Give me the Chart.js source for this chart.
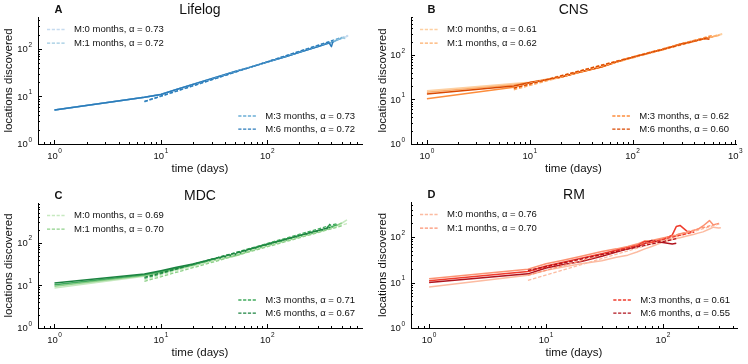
<!DOCTYPE html>
<html><head><meta charset="utf-8">
<script src="https://cdn.jsdelivr.net/npm/chart.js@4.4.1/dist/chart.umd.min.js"></script>
<style>
html,body{margin:0;padding:0;background:#fff;}
#wrap{position:relative;width:748px;height:364px;background:#fff;}
#wrap canvas{position:absolute;}
</style></head><body>
<div id="wrap">
<canvas id="cA" width="374" height="182" style="left:0;top:0"></canvas>
<canvas id="cB" width="374" height="182" style="left:374px;top:0"></canvas>
<canvas id="cC" width="374" height="182" style="left:0;top:182px"></canvas>
<canvas id="cD" width="374" height="182" style="left:374px;top:182px"></canvas>
</div>
<script>
// ---------- shared labels ----------
const seriesLabels = ['M:0 months', 'M:1 months', 'M:3 months', 'M:6 months'];
const panelTitles = ['Lifelog', 'CNS', 'MDC', 'RM'];
const panelLetters = ['A', 'B', 'C', 'D'];
const xTitle = 'time (days)';
const yTitle = 'locations discovered';

// ---------- A: Lifelog ----------
const lifelogDays = [1, 7, 10, 14, 20, 30, 50, 70, 100, 150, 200, 300, 380, 400, 415, 450, 500, 540, 575];
const lifelogM0 = [5.2, 9.6, 11, 14, 17.8, 23.5, 33.5, 41.5, 53, 69, 85, 112, 132, 136, 140, 152, 170, 178, 186];
const lifelogM1 = [5.2, 9.6, 11.1, 14.1, 18, 23.8, 33.8, 41.8, 53.5, 69.5, 85.5, 114, 134, 138, 142, 155, 172, 165, null];
const lifelogM3 = [5.2, 9.6, 11, 14, 17.9, 23.6, 33.6, 41.6, 53.2, 69.2, 85.2, 113, 133, 137, 141, 153, 168, null, null];
const lifelogM6 = [5.2, 9.6, 11, 14, 17.8, 23.5, 33.5, 41.5, 53, 69, 85, 112, 135, 112, 146, null, null, null, null];
const lifelogFitM0 = [[7, 7.8], [575, 194]];
const lifelogFitM1 = [[7, 7.9], [540, 180]];
const lifelogFitM3 = [[7, 7.7], [500, 175]];
const lifelogFitM6 = [[7, 7.9], [415, 150]];
const lifelogAlpha = ['0.73', '0.72', '0.73', '0.72'];

// ---------- B: CNS ----------
const cnsDays = [1, 7, 10, 14, 20, 30, 50, 70, 100, 150, 200, 300, 400, 500, 560, 600, 700, 745];
const cnsM0 = [15.8, 23, 24.5, 28, 32, 41, 54, 70, 89, 114, 134, 178, 205, 233, 248, 258, 280, 293];
const cnsM1 = [14.5, 21.5, 24, 27.5, 31.8, 40.5, 53.5, 69, 88, 113, 133, 177, 204, 232, 246, 256, 278, null];
const cnsM3 = [10.4, 18.8, 23.5, 27, 31.5, 40.5, 53.5, 69.5, 88.5, 113, 134, 177, 205, 232, 247, 257, null, null];
const cnsM6 = [13.3, 20, 24, 27.5, 31.6, 41, 54, 70, 89, 114, 134, 178, 206, 233, 225, null, null, null];
const cnsFitM0 = [[7, 18.5], [745, 300]];
const cnsFitM1 = [[7, 16.5], [700, 285]];
const cnsFitM3 = [[7, 17.5], [600, 276]];
const cnsFitM6 = [[7, 18], [560, 250]];
const cnsAlpha = ['0.61', '0.62', '0.62', '0.60'];

// ---------- C: MDC ----------
const mdcDays = [1, 7, 10, 14, 20, 30, 50, 70, 100, 150, 200, 300, 360, 390, 420, 450, 500, 560];
const mdcM0 = [8.7, 16.4, 19, 23.5, 28.5, 37, 48.5, 64, 84, 110, 135, 178, 202, 218, 233, 250, 285, 340];
const mdcM1 = [9.5, 17, 20, 24.5, 29.5, 38, 50, 66, 86, 113, 138, 180, 205, 220, 236, 252, 290, null];
const mdcM3 = [10.3, 17.8, 21, 25.5, 30.5, 39.5, 52, 69, 89, 117, 143, 185, 212, 228, 245, 262, null, null];
const mdcM6 = [11.3, 18.4, 22, 26.5, 31.6, 41, 54, 72, 93, 122, 148, 192, 215, 275, null, null, null, null];
const mdcFitM0 = [[7, 13.5], [560, 280]];
const mdcFitM1 = [[7, 12.4], [500, 247]];
const mdcFitM3 = [[7, 14.5], [450, 279]];
const mdcFitM6 = [[7, 15.4], [390, 228]];
const mdcAlpha = ['0.69', '0.70', '0.71', '0.67'];

// ---------- D: RM ----------
const rmDays = [1, 7, 10, 14, 20, 30, 40, 50, 60, 70, 80, 100, 120, 130, 140, 160, 185, 200, 220, 250, 270, 300, 313];
const rmM0 = [8, 14.4, 18.5, 22, 26, 30, 36, 40, 47, 55, 62, 78, 88, 93, 97, 105, 115, 122, 130, 150, 165, 158, 160];
const rmM1 = [12.1, 19.5, 25.9, 31, 38, 48, 55, 62, 70, 82, 84, 95, 105, 110, 118, 125, 140, 150, 175, 230, 185, 200, null];
const rmM3 = [11, 17.5, 23, 28, 34, 43, 51, 58, 65, 80, 76, 88, 110, 170, 180, 135, 128, null, null, null, null, null, null];
const rmM6 = [10, 15.5, 20.9, 25, 29, 38, 47, 55, 62, 72, 84, 76, 70, 73, null, null, null, null, null, null, null, null, null];
const rmFitM0 = [[7, 11.2], [313, 200]];
const rmFitM1 = [[7, 14.5], [300, 200]];
const rmFitM3 = [[7, 17.5], [185, 129]];
const rmFitM6 = [[7, 18.5], [130, 92]];
const rmAlpha = ['0.76', '0.70', '0.61', '0.55'];

// ---------- axis tick labels (powers of ten) ----------
const xTicksA = [1, 10, 100];
const xTicksB = [1, 10, 100, 1000];
const xTicksC = [1, 10, 100];
const xTicksD = [1, 10, 100];
const yTicks = [1, 10, 100];

// ---------- styles ----------
const FONT = '"Liberation Sans", Arial, Helvetica, sans-serif';
const TXT = '#111';
const blues = ['#c6dbef', '#9ecae1', '#6baed6', '#2b7bba'];
const oranges = ['#fdd0a2', '#fdae6b', '#fd8d3c', '#d94801'];
const greens = ['#c7e9c0', '#8fd18a', '#41ab5d', '#1b8340'];
const reds = ['#fcbba1', '#fc9272', '#ef3b2c', '#b0131d'];

function toPts(days, vals) {
  const out = [];
  for (let i = 0; i < days.length; i++) if (vals[i] != null) out.push({x: days[i], y: vals[i]});
  return out;
}
function fitPts(arr) { return arr.map(p => ({x: p[0], y: p[1]})); }

function powLabel(ctx, x, y, exp, align) {
  const base = '10', sup = String(exp);
  ctx.font = '9.5px ' + FONT;
  const wb = ctx.measureText(base).width;
  ctx.font = '6.5px ' + FONT;
  const ws = ctx.measureText(sup).width;
  const total = wb + ws + 0.5;
  let sx = align === 'center' ? x - total / 2 : x - total;
  ctx.textAlign = 'left';
  ctx.textBaseline = 'middle';
  ctx.font = '9.5px ' + FONT;
  ctx.fillText(base, sx, y);
  ctx.font = '6.5px ' + FONT;
  ctx.fillText(sup, sx + wb + 0.5, y - 5);
}

function logMarks(scale) {
  const out = [];
  const lo = Math.floor(Math.log10(scale.min)), hi = Math.ceil(Math.log10(scale.max));
  for (let d = lo; d <= hi; d++) for (let k = 1; k <= 9; k++) {
    const v = k * Math.pow(10, d);
    if (v >= scale.min * 0.999 && v <= scale.max * 1.001) out.push({v: v, major: k === 1});
  }
  return out;
}

function makePanel(id, idx, days, series, fits, alphas, colors, xTicks, g) {
  const datasets = [];
  for (let i = 0; i < 4; i++) {
    datasets.push({label: seriesLabels[i], data: toPts(days, series[i]), borderColor: colors[i],
      borderWidth: 1.5, pointRadius: 0, order: 24 - i, borderJoinStyle: 'round', fill: false});
  }
  for (let i = 0; i < 4; i++) {
    datasets.push({label: seriesLabels[i] + ', \u03b1 = ' + alphas[i], data: fitPts(fits[i]), borderColor: colors[i],
      borderWidth: 1.3, borderDash: [3.5, 1.8], pointRadius: 0, order: 14 - i, isFit: true, fill: false});
  }
  const deco = {
    id: 'deco' + id,
    afterDraw(chart) {
      const ctx = chart.ctx, ca = chart.chartArea;
      const xs = chart.scales.x, ys = chart.scales.y;
      ctx.save();
      // inward ticks
      ctx.strokeStyle = '#000'; ctx.lineWidth = 1;
      for (const t of logMarks(xs)) {
        const px = Math.round(xs.getPixelForValue(t.v)) + 0.5;
        ctx.beginPath(); ctx.moveTo(px, ca.bottom); ctx.lineTo(px, ca.bottom - (t.major ? 4 : 2)); ctx.stroke();
      }
      for (const t of logMarks(ys)) {
        const py = Math.round(ys.getPixelForValue(t.v)) + 0.5;
        ctx.beginPath(); ctx.moveTo(ca.left, py); ctx.lineTo(ca.left + (t.major ? 4 : 2), py); ctx.stroke();
      }
      // tick labels
      ctx.fillStyle = TXT;
      for (const v of xTicks) powLabel(ctx, xs.getPixelForValue(v), ca.bottom + 12.7, Math.round(Math.log10(v)), 'center');
      for (const v of yTicks) powLabel(ctx, ca.left - 6, ys.getPixelForValue(v) + 0.8, Math.round(Math.log10(v)), 'right');
      // panel title + letter
      ctx.textBaseline = 'middle';
      ctx.textAlign = 'center';
      ctx.font = '14px ' + FONT;
      ctx.fillText(panelTitles[idx], (ca.left + ca.right) / 2, ca.top - 7);
      ctx.font = 'bold 11px ' + FONT;
      ctx.fillText(panelLetters[idx], ca.left + 20.5, ca.top - 7);
      // legends
      ctx.font = '9.5px ' + FONT;
      ctx.textAlign = 'left';
      const fitsDs = chart.data.datasets.filter(d => d.isFit);
      const upper = fitsDs.slice(0, 2), lower = fitsDs.slice(2, 4);
      const drawEntry = (ds, tx, y) => {
        ctx.strokeStyle = ds.borderColor; ctx.lineWidth = 1.3; ctx.setLineDash([3.2, 1.6]);
        ctx.beginPath(); ctx.moveTo(tx - 27, y); ctx.lineTo(tx - 8, y); ctx.stroke();
        ctx.setLineDash([]);
        ctx.fillStyle = TXT; ctx.fillText(ds.label, tx, y);
      };
      const ux = ca.left + 36;
      drawEntry(upper[0], ux, ca.top + 12.5);
      drawEntry(upper[1], ux, ca.top + 26.2);
      const wMax = Math.max(ctx.measureText(lower[0].label).width, ctx.measureText(lower[1].label).width);
      const lx = ca.right - 7 - wMax;
      drawEntry(lower[0], lx, ca.bottom - 28);
      drawEntry(lower[1], lx, ca.bottom - 14.8);
      ctx.restore();
    }
  };
  const H = 182, W = 374;
  return new Chart(document.getElementById(id), {
    type: 'line',
    data: {datasets: datasets},
    options: {
      responsive: false, animation: false, devicePixelRatio: 1,
      layout: {padding: {top: g.top, right: W - g.right, left: 0, bottom: 0}},
      plugins: {legend: {display: false}, tooltip: {enabled: false}, title: {display: false}},
      elements: {point: {radius: 0}, line: {tension: 0}},
      scales: {
        x: {type: 'logarithmic', position: 'bottom', min: g.xmin, max: g.xmax,
          grid: {display: false}, border: {display: true, color: '#000', width: 1},
          ticks: {display: false},
          title: {display: true, text: xTitle, color: TXT, font: {family: FONT, size: 11.5},
            padding: {top: 0, bottom: H - 6.9 - g.bottom - 24.7}},
          afterFit(s) { s.height = H - g.bottom; }},
        y: {type: 'logarithmic', position: 'left', min: g.ymin, max: g.ymax,
          grid: {display: false}, border: {display: true, color: '#000', width: 1},
          ticks: {display: false},
          title: {display: true, text: yTitle, color: TXT, font: {family: FONT, size: 11.5},
            padding: {top: 2, bottom: 0}},
          afterFit(s) { s.width = g.left; }}
      }
    },
    plugins: [deco]
  });
}

makePanel('cA', 0, lifelogDays, [lifelogM0, lifelogM1, lifelogM3, lifelogM6],
  [lifelogFitM0, lifelogFitM1, lifelogFitM3, lifelogFitM6], lifelogAlpha, blues, xTicksA,
  {left: 38, right: 362, top: 17, bottom: 144, xmin: 0.72, xmax: 775, ymin: 1, ymax: 470});
makePanel('cB', 1, cnsDays, [cnsM0, cnsM1, cnsM3, cnsM6],
  [cnsFitM0, cnsFitM1, cnsFitM3, cnsFitM6], cnsAlpha, oranges, xTicksB,
  {left: 37, right: 362, top: 17, bottom: 144, xmin: 0.71, xmax: 1015, ymin: 1, ymax: 713});
makePanel('cC', 2, mdcDays, [mdcM0, mdcM1, mdcM3, mdcM6],
  [mdcFitM0, mdcFitM1, mdcFitM3, mdcFitM6], mdcAlpha, greens, xTicksC,
  {left: 38, right: 362, top: 21, bottom: 146, xmin: 0.72, xmax: 775, ymin: 1, ymax: 850});
makePanel('cD', 3, rmDays, [rmM0, rmM1, rmM3, rmM6],
  [rmFitM0, rmFitM1, rmFitM3, rmFitM6], rmAlpha, reds, xTicksD,
  {left: 37, right: 363, top: 20, bottom: 146, xmin: 0.742, xmax: 430, ymin: 1, ymax: 590});
</script>
</body></html>
